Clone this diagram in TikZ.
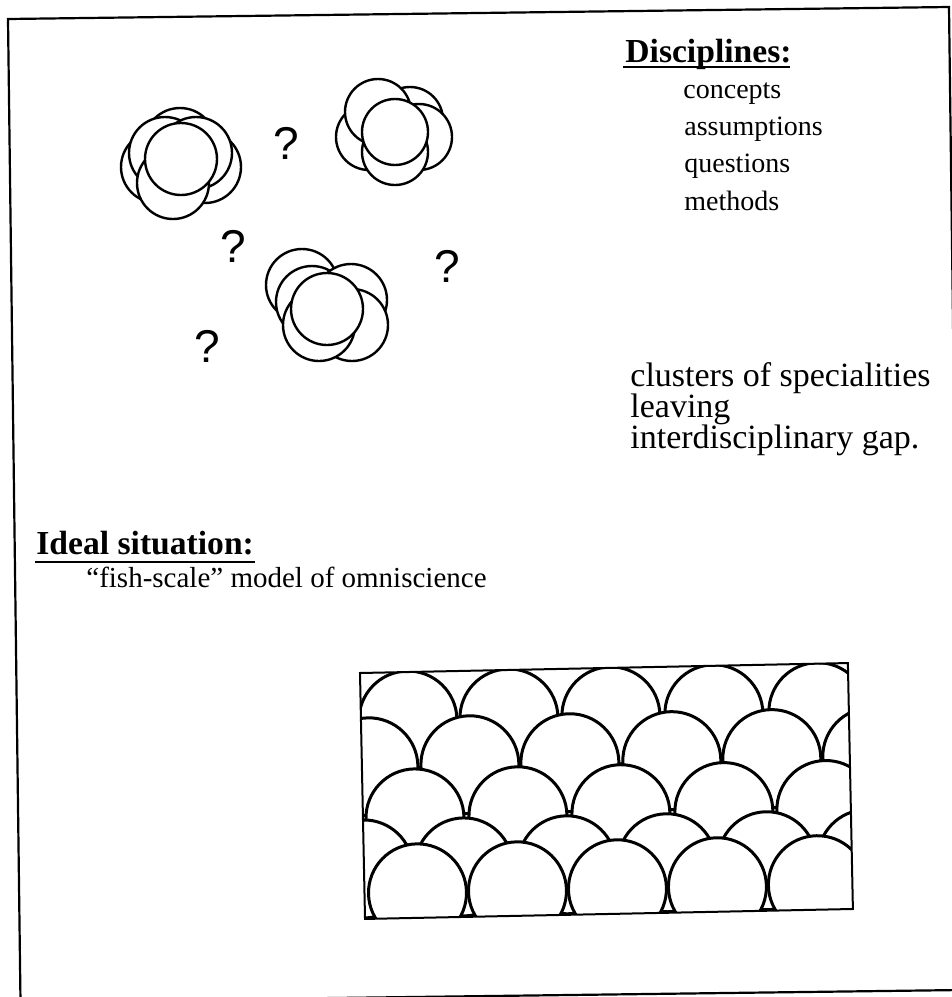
\documentclass[tikz,border=0pt]{standalone}
\usepackage{fontspec}
\setmainfont{Liberation Serif}
\newfontfamily\qfont{Liberation Sans}
\begin{document}
\begin{tikzpicture}[x=0.5pt,y=-0.5pt,
  disc/.style={draw=black, fill=white, line width=1.2pt},
  fishscale/.style={draw=black, fill=white, line width=1.5pt},
  qmark/.style={font=\qfont\fontsize{23}{23}\selectfont, anchor=base, inner sep=0pt},
  head/.style={font=\bfseries\fontsize{16.8}{20}\selectfont, anchor=base west, inner sep=0pt},
  body/.style={font=\fontsize{14}{17}\selectfont, anchor=base west, inner sep=0pt},
  note/.style={font=\fontsize{17}{20}\selectfont, anchor=base west, inner sep=0pt},
  uline/.style={line width=1pt},
  frameline/.style={line width=1.1pt}]
\useasboundingbox (0,0) rectangle (952,997);
\begin{scope}
\clip (0,0) rectangle (952,997);
\draw[frameline] (8,19) -- (949,7) -- (961.5,990) -- (20.5,1002) -- cycle;
\end{scope}

% cluster 1
\foreach \cx/\cy in {180/144, 157/167, 205/167, 165/153, 196/153, 173/183, 181/159}
  \draw[disc] (\cx,\cy) circle[radius=36];
% cluster 2
\foreach \cx/\cy in {410/120, 419/137, 369/137, 378/112, 395/152, 395/132}
  \draw[disc] (\cx,\cy) circle[radius=33];
% cluster 3
\foreach \cx/\cy in {302/285, 312/302, 351/300, 352/325, 319/325, 327/309}
  \draw[disc] (\cx,\cy) circle[radius=36];

% question marks
\node[qmark] (q1) at (286,159) {?};
\node[qmark] (q2) at (233,262) {?};
\node[qmark] (q3) at (447,282) {?};
\node[qmark] (q4) at (207,362) {?};

% Disciplines
\node[head] (disc) at (625,62) {Disciplines:};
\draw[uline] ([shift={(-2,5)}]disc.base west) -- ([shift={(-2,5)}]disc.base east);
\node[body] (t1) at (683,98) {concepts};
\node[body] (t2) at (684,135) {assumptions};
\node[body] (t3) at (684,172) {questions};
\node[body] (t4) at (684,210) {methods};

\node[note] (n1) at (630,386) {clusters of specialities};
\node[note] (n2) at (630,417) {leaving};
\node[note] (n3) at (630,448) {interdisciplinary gap.};

% Ideal situation
\node[head] (ideal) at (36,554) {Ideal situation:};
\draw[uline] ([shift={(-1,8)}]ideal.base west) -- ([shift={(1,8)}]ideal.base east);
\node[body] (fs) at (86,587) {\fontsize{14.5}{17}\selectfont “fish-scale” model of omniscience};

% fish scales
\begin{scope}[shift={(360,673)}, rotate=1.17]
  \begin{scope}
  \clip (0,0) rectangle (488,246);
  \foreach \x in {47,148,250,353,457} \draw[fishscale] (\x,48) circle[radius=49];
  \foreach \x in {7,108,208,310,410,510} \draw[fishscale] (\x,94) circle[radius=49];
  \foreach \x in {52,155,258,361,463} \draw[fishscale] (\x,146) circle[radius=49];
  \foreach \x in {0,100,203,303,403,503} \draw[fishscale] (\x,196) circle[radius=49];
  \foreach \x in {53,153,253,353,453} \draw[fishscale] (\x,221) circle[radius=49];
  \end{scope}
  \draw[line width=1pt] (0,0) rectangle (488,246);
\end{scope}
\end{tikzpicture}
\end{document}
